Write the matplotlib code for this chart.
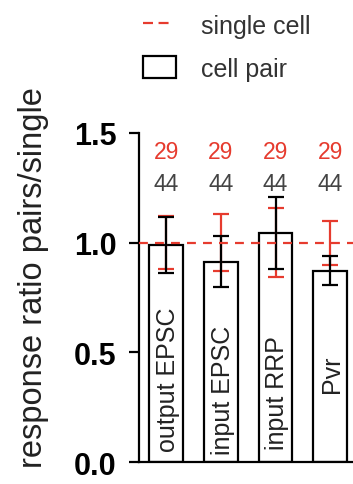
import matplotlib
matplotlib.use("Agg")
import matplotlib.pyplot as plt
from matplotlib.lines import Line2D
from matplotlib.patches import Patch

plt.rcParams['font.family'] = ['Liberation Sans', 'DejaVu Sans']

categories = ["output EPSC", "input EPSC", "input RRP", "Pvr"]
pair_mean = [0.99, 0.912, 1.044, 0.871]
pair_err = [0.127, 0.116, 0.162, 0.066]
single_mean = [1.0, 1.0, 1.0, 1.0]
single_err = [0.12, 0.13, 0.157, 0.10]
n_single = ["29", "29", "29", "29"]
n_pair = ["44", "44", "44", "44"]

RED = "#e63b2e"
fig = plt.figure(figsize=(3.53, 4.85), dpi=100)
ax = fig.add_axes([0.394, 0.045, 0.606, 0.679])

x = list(range(len(categories)))
ax.bar(x, pair_mean, width=0.62, color="white", edgecolor="black", linewidth=1.6, zorder=2)
ax.errorbar(x, single_mean, yerr=single_err, fmt="none", ecolor=RED, elinewidth=1.6,
            capsize=5.5, capthick=1.6, zorder=3)
ax.errorbar(x, pair_mean, yerr=pair_err, fmt="none", ecolor="black", elinewidth=1.6,
            capsize=5.5, capthick=1.6, zorder=4)
ax.axhline(1.0, color=RED, linestyle=(0, (4, 3.2)), linewidth=1.6, zorder=5)

label_y = [0.05, 0.036, 0.06, 0.32]
for xi, lab, ly in zip(x, categories, label_y):
    ax.text(xi + 0.03, ly, lab, rotation=90, ha="center", va="bottom", fontsize=18,
            color="#222222", zorder=6)

for xi, s, p in zip(x, n_single, n_pair):
    ax.text(xi, 1.415, s, ha="center", va="center", fontsize=16.5, color=RED)
    ax.text(xi, 1.27, p, ha="center", va="center", fontsize=16.5, color="#444444")

ax.set_xlim(-0.5, 3.42)
ax.set_ylim(0, 1.5)
ax.set_yticks([0.0, 0.5, 1.0, 1.5])
ax.set_yticklabels(["0.0", "0.5", "1.0", "1.5"], fontweight="bold", fontsize=22)
ax.set_xticks([])
ax.spines["top"].set_visible(False)
ax.spines["right"].set_visible(False)
ax.spines["left"].set_linewidth(1.6)
ax.spines["bottom"].set_linewidth(1.6)
ax.tick_params(axis="y", length=7, width=1.6, pad=9)
ax.set_ylabel("response ratio pairs/single", fontsize=23.5, color="#222222")
ax.yaxis.set_label_coords(-0.42, 0.565)

handles = [Line2D([0], [0], color=RED, linestyle=(0, (4.5, 2.5, 4.5, 20)), linewidth=1.6),
           Patch(facecolor="white", edgecolor="black", linewidth=1.6)]
fig.legend(handles, ["single cell", "cell pair"], loc="upper left",
           bbox_to_anchor=(0.340, 1.017), frameon=False, fontsize=18,
           handlelength=1.35, handleheight=1.0, handletextpad=1.0, labelspacing=0.72,
           labelcolor="#333333")

fig.savefig("out.png", dpi=100)
